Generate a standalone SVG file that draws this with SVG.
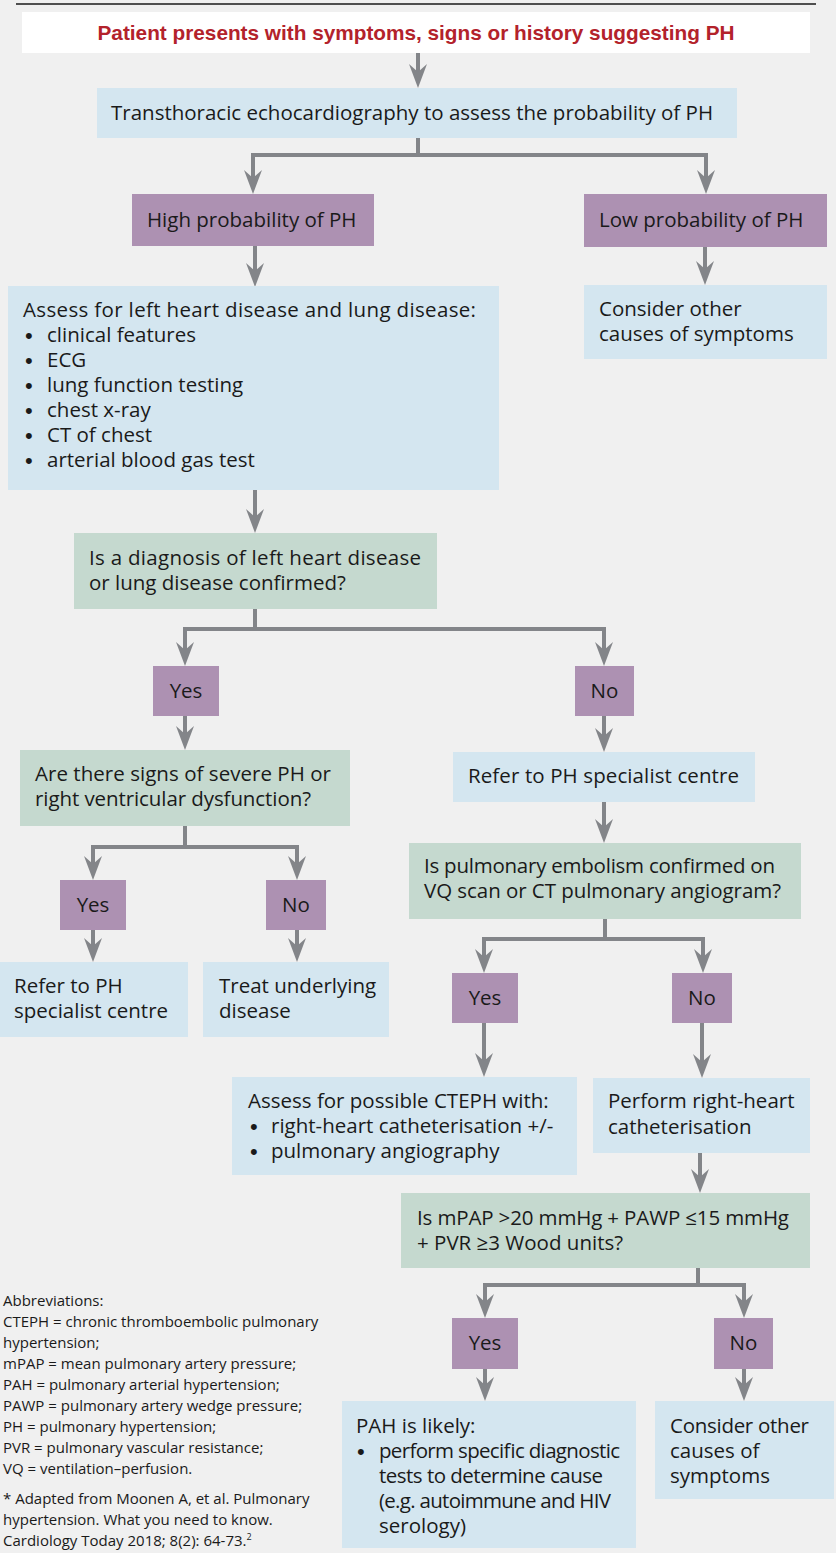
<svg xmlns="http://www.w3.org/2000/svg" width="836" height="1553" viewBox="0 0 836 1553">
<defs>
<style>
.t{font-family:"Open Sans","Liberation Sans",sans-serif;font-size:20.5px;fill:#1a1a1a}
.b{font-family:"Liberation Sans",sans-serif;font-size:22px;fill:#1a1a1a}
.c{text-anchor:middle}
.ab{font-family:"Open Sans","Liberation Sans",sans-serif;font-size:15px;fill:#1a1a1a}
.blue{fill:#d4e6f0}
.green{fill:#c5d9cf}
.purple{fill:#ad91b2}
.con path{fill:none;stroke:#838589;stroke-width:4;stroke-linejoin:miter}
</style>
<marker id="ah" viewBox="0 0 24 18" refX="14" refY="9" markerWidth="24" markerHeight="18" markerUnits="userSpaceOnUse" orient="auto">
<path d="M0,0 L24,9 L0,18 L8,9 Z" fill="#838589"/>
</marker>
</defs>
<rect x="0" y="0" width="836" height="1553" fill="#f0f0f0"/>
<line x1="16" y1="4" x2="816" y2="4" stroke="#1a1a1a" stroke-width="1.5"/>

<g class="con">
<path d="M418,53 V78" marker-end="url(#ah)"/>
<path d="M418,138 V155"/>
<path d="M418,155 H253 V184" marker-end="url(#ah)"/>
<path d="M418,155 H706 V184" marker-end="url(#ah)"/>
<path d="M255,246 V277" marker-end="url(#ah)"/>
<path d="M705,247 V275" marker-end="url(#ah)"/>
<path d="M255,490 V523" marker-end="url(#ah)"/>
<path d="M255,609 V629"/>
<path d="M255,629 H185 V656" marker-end="url(#ah)"/>
<path d="M255,629 H604 V656" marker-end="url(#ah)"/>
<path d="M185,716 V740" marker-end="url(#ah)"/>
<path d="M604,716 V742" marker-end="url(#ah)"/>
<path d="M185,826 V847"/>
<path d="M185,847 H93 V870" marker-end="url(#ah)"/>
<path d="M185,847 H297 V870" marker-end="url(#ah)"/>
<path d="M93,930 V952" marker-end="url(#ah)"/>
<path d="M297,930 V952" marker-end="url(#ah)"/>
<path d="M604,802 V833" marker-end="url(#ah)"/>
<path d="M605,919 V939"/>
<path d="M605,939 H484 V963" marker-end="url(#ah)"/>
<path d="M605,939 H703 V963" marker-end="url(#ah)"/>
<path d="M484,1023 V1067" marker-end="url(#ah)"/>
<path d="M702,1023 V1068" marker-end="url(#ah)"/>
<path d="M700,1153 V1183" marker-end="url(#ah)"/>
<path d="M698,1268 V1285"/>
<path d="M698,1285 H485 V1308" marker-end="url(#ah)"/>
<path d="M698,1285 H744 V1308" marker-end="url(#ah)"/>
<path d="M485,1369 V1391" marker-end="url(#ah)"/>
<path d="M744,1369 V1391" marker-end="url(#ah)"/>
</g>

<g id="start">
<rect x="22" y="12" width="788" height="41" fill="#ffffff"/>
<text x="416" y="40" text-anchor="middle" textLength="637" lengthAdjust="spacingAndGlyphs" style="font-family:'Liberation Sans',sans-serif;font-size:21px;font-weight:bold;fill:#b3222b">Patient presents with symptoms, signs or history suggesting PH</text>
</g>
<g id="echo">
<rect class="blue" x="97" y="88" width="640" height="50"/>
<text class="t" x="111" y="120" textLength="602">Transthoracic echocardiography to assess the probability of PH</text>
</g>
<g id="high">
<rect class="purple" x="132" y="194" width="242" height="52"/>
<text class="t" x="147" y="227">High probability of PH</text>
</g>
<g id="low">
<rect class="purple" x="584" y="194" width="243" height="53"/>
<text class="t" x="599" y="227">Low probability of PH</text>
</g>
<g id="consider1">
<rect class="blue" x="584" y="285" width="243" height="74"/>
<text class="t" x="599" y="316">Consider other</text>
<text class="t" x="599" y="341">causes of symptoms</text>
</g>
<g id="assess">
<rect class="blue" x="8" y="286" width="491" height="204"/>
<text class="t" x="23" y="317" textLength="453">Assess for left heart disease and lung disease:</text>
<text class="b" x="25" y="343">•</text><text class="t" x="47" y="342">clinical features</text>
<text class="b" x="25" y="368">•</text><text class="t" x="47" y="367">ECG</text>
<text class="b" x="25" y="393">•</text><text class="t" x="47" y="392">lung function testing</text>
<text class="b" x="25" y="418">•</text><text class="t" x="47" y="417">chest x-ray</text>
<text class="b" x="25" y="443">•</text><text class="t" x="47" y="442">CT of chest</text>
<text class="b" x="25" y="468">•</text><text class="t" x="47" y="467">arterial blood gas test</text>
</g>
<g id="q1">
<rect class="green" x="74" y="533" width="363" height="76"/>
<text class="t" x="89" y="565" textLength="332">Is a diagnosis of left heart disease</text>
<text class="t" x="89" y="590">or lung disease confirmed?</text>
</g>
<g id="q1yes">
<rect class="purple" x="153" y="666" width="66" height="50"/>
<text class="t c" x="186" y="698">Yes</text>
</g>
<g id="q1no">
<rect class="purple" x="575" y="666" width="59" height="50"/>
<text class="t c" x="604.5" y="698">No</text>
</g>
<g id="q2">
<rect class="green" x="20" y="750" width="330" height="76"/>
<text class="t" x="35" y="781" textLength="296">Are there signs of severe PH or</text>
<text class="t" x="35" y="806" textLength="276">right ventricular dysfunction?</text>
</g>
<g id="q2yes">
<rect class="purple" x="60" y="880" width="66" height="50"/>
<text class="t c" x="93" y="912">Yes</text>
</g>
<g id="q2no">
<rect class="purple" x="266" y="880" width="60" height="50"/>
<text class="t c" x="296" y="912">No</text>
</g>
<g id="refer1">
<rect class="blue" x="0" y="962" width="188" height="75"/>
<text class="t" x="14" y="993">Refer to PH</text>
<text class="t" x="14" y="1018">specialist centre</text>
</g>
<g id="treat">
<rect class="blue" x="203" y="962" width="186" height="75"/>
<text class="t" x="219" y="993">Treat underlying</text>
<text class="t" x="219" y="1018">disease</text>
</g>
<g id="refer2">
<rect class="blue" x="453" y="752" width="302" height="50"/>
<text class="t" x="468" y="783" textLength="271">Refer to PH specialist centre</text>
</g>
<g id="q3">
<rect class="green" x="409" y="843" width="392" height="76"/>
<text class="t" x="424" y="873" textLength="351">Is pulmonary embolism confirmed on</text>
<text class="t" x="424" y="898" textLength="357">VQ scan or CT pulmonary angiogram?</text>
</g>
<g id="q3yes">
<rect class="purple" x="452" y="973" width="66" height="50"/>
<text class="t c" x="485" y="1005">Yes</text>
</g>
<g id="q3no">
<rect class="purple" x="672" y="973" width="60" height="50"/>
<text class="t c" x="702" y="1005">No</text>
</g>
<g id="cteph">
<rect class="blue" x="232" y="1077" width="345" height="98"/>
<text class="t" x="248" y="1108">Assess for possible CTEPH with:</text>
<text class="b" x="250" y="1134">•</text><text class="t" x="271" y="1133">right-heart catheterisation +/-</text>
<text class="b" x="250" y="1159">•</text><text class="t" x="271" y="1158">pulmonary angiography</text>
</g>
<g id="rhc">
<rect class="blue" x="593" y="1078" width="217" height="75"/>
<text class="t" x="608" y="1108">Perform right-heart</text>
<text class="t" x="608" y="1134">catheterisation</text>
</g>
<g id="q4">
<rect class="green" x="401" y="1193" width="409" height="75"/>
<text class="t" x="417" y="1225" textLength="372">Is mPAP &gt;20 mmHg + PAWP ≤15 mmHg</text>
<text class="t" x="417" y="1250">+ PVR ≥3 Wood units?</text>
</g>
<g id="q4yes">
<rect class="purple" x="452" y="1318" width="66" height="51"/>
<text class="t c" x="485" y="1350">Yes</text>
</g>
<g id="q4no">
<rect class="purple" x="714" y="1318" width="59" height="51"/>
<text class="t c" x="743.5" y="1350">No</text>
</g>
<g id="pah">
<rect class="blue" x="342" y="1401" width="294" height="147"/>
<text class="t" x="356" y="1433">PAH is likely:</text>
<text class="b" x="357" y="1459">•</text><text class="t" x="379" y="1458" textLength="241">perform specific diagnostic</text>
<text class="t" x="379" y="1483" textLength="224">tests to determine cause</text>
<text class="t" x="379" y="1508" textLength="232">(e.g. autoimmune and HIV</text>
<text class="t" x="379" y="1533">serology)</text>
</g>
<g id="consider2">
<rect class="blue" x="655" y="1401" width="179" height="98"/>
<text class="t" x="670" y="1433" textLength="139">Consider other</text>
<text class="t" x="670" y="1458">causes of</text>
<text class="t" x="670" y="1483">symptoms</text>
</g>
<g id="notes">
<text class="ab" x="3" y="1306">Abbreviations:</text>
<text class="ab" x="3" y="1327">CTEPH = chronic thromboembolic pulmonary</text>
<text class="ab" x="3" y="1348">hypertension;</text>
<text class="ab" x="3" y="1369">mPAP = mean pulmonary artery pressure;</text>
<text class="ab" x="3" y="1390">PAH = pulmonary arterial hypertension;</text>
<text class="ab" x="3" y="1411">PAWP = pulmonary artery wedge pressure;</text>
<text class="ab" x="3" y="1432">PH = pulmonary hypertension;</text>
<text class="ab" x="3" y="1453">PVR = pulmonary vascular resistance;</text>
<text class="ab" x="3" y="1474">VQ = ventilation–perfusion.</text>
<text class="ab" x="3" y="1504">* Adapted from Moonen A, et al. Pulmonary</text>
<text class="ab" x="3" y="1525">hypertension. What you need to know.</text>
<text class="ab" x="3" y="1546">Cardiology Today 2018; 8(2): 64-73.<tspan dy="-6" font-size="9">2</tspan></text>
</g>
</svg>
